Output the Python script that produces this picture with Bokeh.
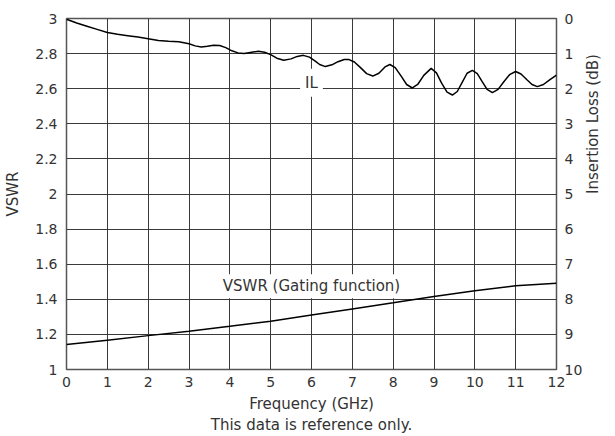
import math
from bokeh.plotting import figure
from bokeh.models import Range1d, LinearAxis, FixedTicker, Label, Grid
from bokeh.embed import file_html
from bokeh.resources import INLINE

# ---- data ----
vswr_freq = [0, 1, 2, 3, 4, 5, 6, 7, 8, 9, 10, 11, 12]
vswr_vals = [1.142, 1.167, 1.193, 1.218, 1.246, 1.275, 1.31, 1.345, 1.38, 1.416, 1.449, 1.477, 1.492]

il_freq = [0, 0.25, 0.5, 0.75, 1.0, 1.25, 1.5, 1.75, 2.0, 2.25, 2.5, 2.75, 3.0, 3.15, 3.3, 3.45,
           3.6, 3.75, 3.9, 4.05, 4.2, 4.35, 4.5, 4.7, 4.85, 5.0, 5.15, 5.32, 5.5, 5.65, 5.8, 5.95,
           6.1, 6.2, 6.34, 6.5, 6.65, 6.8, 6.92, 7.05, 7.2, 7.35, 7.5, 7.65, 7.8, 7.92, 8.05, 8.2,
           8.33, 8.47, 8.6, 8.75, 8.93, 9.06, 9.19, 9.32, 9.45, 9.57, 9.69, 9.81, 9.94, 10.06,
           10.18, 10.3, 10.43, 10.57, 10.71, 10.85, 11.0, 11.13, 11.27, 11.4, 11.53, 11.68, 11.84, 12.0]
il_vals = [0.02, 0.13, 0.22, 0.31, 0.40, 0.45, 0.49, 0.53, 0.58, 0.63, 0.65, 0.66, 0.72, 0.78, 0.81, 0.79,
           0.76, 0.77, 0.83, 0.92, 0.98, 1.0, 0.97, 0.93, 0.96, 1.03, 1.13, 1.19, 1.15, 1.08, 1.05, 1.1,
           1.22, 1.31, 1.37, 1.32, 1.23, 1.17, 1.17, 1.24, 1.40, 1.57, 1.64, 1.56, 1.38, 1.31, 1.40, 1.65,
           1.88, 1.98, 1.88, 1.62, 1.42, 1.55, 1.85, 2.10, 2.18, 2.08, 1.82, 1.56, 1.48, 1.57,
           1.80, 2.02, 2.11, 2.02, 1.80, 1.60, 1.51, 1.58, 1.74, 1.88, 1.94, 1.88, 1.74, 1.61]

x_ticks = [0, 1, 2, 3, 4, 5, 6, 7, 8, 9, 10, 11, 12]
vswr_ticks = [1.0, 1.2, 1.4, 1.6, 1.8, 2.0, 2.2, 2.4, 2.6, 2.8, 3.0]
vswr_tick_labels = ["1", "1.2", "1.4", "1.6", "1.8", "2", "2.2", "2.4", "2.6", "2.8", "3"]
il_ticks = [0, 1, 2, 3, 4, 5, 6, 7, 8, 9, 10]

x_label = "Frequency (GHz)"
y_label = "VSWR"
y2_label = "Insertion Loss (dB)"
note = "This data is reference only."
il_text = "IL"
vswr_text = "VSWR (Gating function)"

FONT = "DejaVu Sans"
TXT = "#333333"
GRID = "#3a3a3a"

p = figure(width=615, height=436, output_backend="svg", toolbar_location=None,
           x_range=Range1d(0, 12), y_range=Range1d(1, 3),
           min_border_left=66, min_border_right=59, min_border_top=18, min_border_bottom=66,
           x_axis_location=None, y_axis_location=None)
p.extra_y_ranges = {"il": Range1d(start=10, end=0)}
p.background_fill_color = "white"
p.border_fill_color = "white"
p.outline_line_color = "#555555"
p.outline_line_width = 1.5
p.xgrid.grid_line_color = None
p.ygrid.grid_line_color = None

def style_axis(ax):
    ax.axis_line_color = None
    ax.major_tick_line_color = None
    ax.minor_tick_line_color = None
    ax.major_tick_out = 0
    ax.major_tick_in = 0
    ax.minor_tick_out = 0
    ax.minor_tick_in = 0
    ax.major_label_text_font = FONT
    ax.major_label_text_font_size = "14px"
    ax.major_label_text_color = TXT
    ax.axis_label_text_font = FONT
    ax.axis_label_text_font_size = "15px"
    ax.axis_label_text_font_style = "normal"
    ax.axis_label_text_color = TXT

xax = LinearAxis(ticker=FixedTicker(ticks=x_ticks), axis_label=x_label)
style_axis(xax)
xax.major_label_standoff = 7
xax.axis_label_standoff = 5
p.add_layout(xax, "below")

note_ax = LinearAxis(ticker=FixedTicker(ticks=[]), axis_label=note)
style_axis(note_ax)
note_ax.major_label_standoff = 0
note_ax.axis_label_standoff = 0
p.add_layout(note_ax, "below")

yax = LinearAxis(ticker=FixedTicker(ticks=vswr_ticks), axis_label=y_label)
style_axis(yax)
yax.major_label_overrides = dict(zip(vswr_ticks, vswr_tick_labels))
yax.major_label_standoff = 9
yax.axis_label_standoff = 10
p.add_layout(yax, "left")

y2ax = LinearAxis(y_range_name="il", ticker=FixedTicker(ticks=il_ticks), axis_label=y2_label)
style_axis(y2ax)
y2ax.major_label_standoff = 8
y2ax.axis_label_standoff = 8
if "axis_label_orientation" in y2ax.properties():
    y2ax.axis_label_orientation = math.pi / 2
p.add_layout(y2ax, "right")

# grid
p.add_layout(Grid(dimension=0, ticker=FixedTicker(ticks=x_ticks), grid_line_color=GRID, grid_line_width=1))
p.add_layout(Grid(dimension=1, ticker=FixedTicker(ticks=vswr_ticks), grid_line_color=GRID, grid_line_width=1))

p.line(vswr_freq, vswr_vals, line_color="black", line_width=1.5)
p.line(il_freq, il_vals, line_color="black", line_width=1.5, y_range_name="il")

def txt(**kw):
    return Label(text_font=FONT, text_font_size="15px", text_color=TXT,
                 text_align="center", text_baseline="middle", **kw)

p.add_layout(txt(x=6, y=2.634, text=il_text, background_fill_color="white", padding=5))
p.add_layout(txt(x=6, y=1.474, text=vswr_text, background_fill_color="white", padding=3))

open("out.html", "w").write(file_html(p, INLINE))
